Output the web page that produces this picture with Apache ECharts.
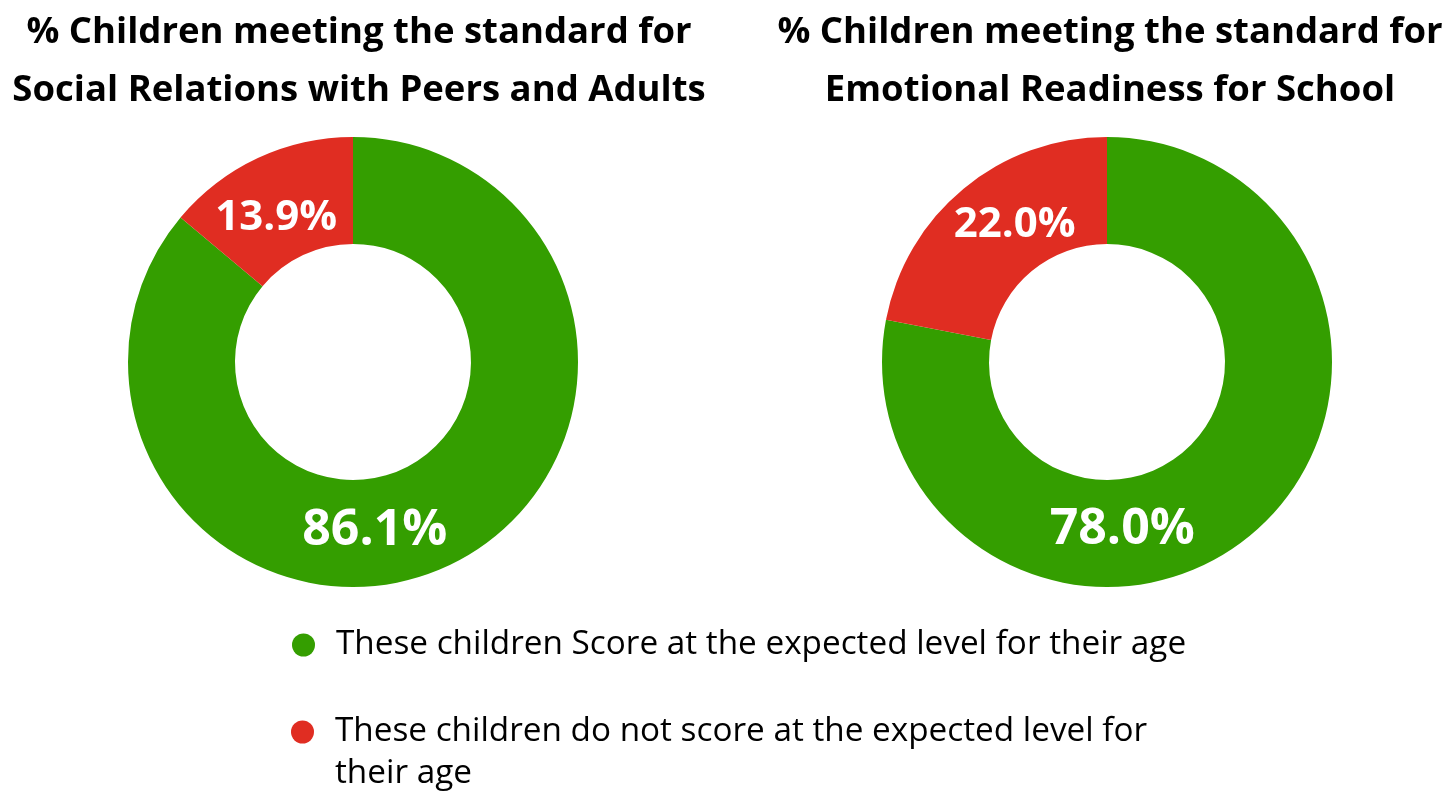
<!DOCTYPE html>
<html>
<head>
<meta charset="utf-8">
<script src="https://cdn.jsdelivr.net/npm/echarts@6/dist/echarts.min.js"></script>
<style>
html,body{margin:0;padding:0;background:#fff;}
#chart{width:1443px;height:795px;}
</style>
</head>
<body>
<div id="chart"></div>
<script>
const categories = ['These children Score at the expected level for their age', 'These children do not score at the expected level for their age'];
const chartTitles = ['% Children meeting the standard for\nSocial Relations with Peers and Adults', '% Children meeting the standard for\nEmotional Readiness for School'];
const socialRelations = [86.1, 13.9];
const emotionalReadiness = [78.0, 22.0];
const colors = ['#349e00', '#e02d22'];

const labelOffsets = [
  [[-52, 11], [-3, 14]],
  [[-96, 33], [19, -3]]
];
const labelSizes = [[50, 42], [50, 42]];

function buildData(values, idx) {
  return values.map((v, i) => ({
    name: categories[i],
    value: v,
    itemStyle: { color: colors[i] },
    label: { offset: labelOffsets[idx][i], fontSize: labelSizes[idx][i] }
  }));
}

const chart = echarts.init(document.getElementById('chart'), null, { renderer: 'canvas' });
const titleStyle = { fontFamily: 'Open Sans', fontWeight: 'bold', fontSize: 36.5, color: '#000', lineHeight: 58 };
const legendText = { fontFamily: 'Open Sans', fontSize: 33.3, color: '#000', lineHeight: 42, padding: [0, 0, 0, 16] };

chart.setOption({
  animation: false,
  title: [
    { text: chartTitles[0], left: 354, top: -1, textAlign: 'center', textStyle: titleStyle },
    { text: chartTitles[1], left: 1105, top: -1, textAlign: 'center', textStyle: titleStyle }
  ],
  legend: [
    { data: [categories[0]], orient: 'vertical', left: 287, top: 619, icon: 'circle', itemWidth: 23, itemHeight: 23, textStyle: legendText, selectedMode: false },
    { data: [categories[1]], orient: 'vertical', left: 286, top: 664, icon: 'circle', itemWidth: 23, itemHeight: 23, textStyle: legendText, selectedMode: false,
      formatter: function (n) { return '\nThese children do not score at the expected level for\ntheir age'; } }
  ],
  series: [
    {
      type: 'pie', center: [353, 362], radius: [118, 225], startAngle: 90, clockwise: true,
      emphasis: { disabled: true }, labelLine: { show: false },
      label: { show: true, position: 'inside', color: '#fff', fontFamily: 'Open Sans', fontWeight: 'bold',
        formatter: p => p.value.toFixed(1) + '%' },
      data: buildData(socialRelations, 0)
    },
    {
      type: 'pie', center: [1107, 362], radius: [118, 225], startAngle: 90, clockwise: true,
      emphasis: { disabled: true }, labelLine: { show: false },
      label: { show: true, position: 'inside', color: '#fff', fontFamily: 'Open Sans', fontWeight: 'bold',
        formatter: p => p.value.toFixed(1) + '%' },
      data: buildData(emotionalReadiness, 1)
    }
  ]
});
</script>
</body>
</html>
